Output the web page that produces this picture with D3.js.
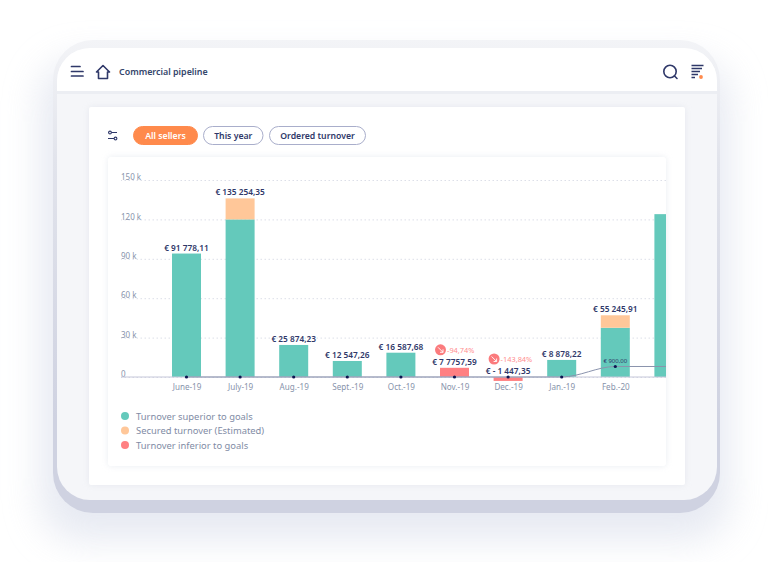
<!DOCTYPE html>
<html>
<head>
<meta charset="utf-8">
<script src="https://cdn.jsdelivr.net/npm/d3@7"></script>
<style>
  html, body { margin: 0; padding: 0; background: #fff; overflow: hidden; }
  svg { display: block; }
  text { font-family: "Noto Sans", sans-serif; }
</style>
</head>
<body>
<script>
// values, in thousands of euros
const months = ["June-19", "July-19", "Aug.-19", "Sept.-19", "Oct.-19", "Nov.-19", "Dec.-19", "Jan.-19", "Feb.-20", "Mar.-20"];
const superior = [94, 120, 24.4, 12.2, 18.5, 0, 0, 13, 37.5, 124];
const secured = [0, 16, 0, 0, 0, 0, 0, 0, 9.5, 0];
const inferior = [0, 0, 0, 0, 0, 7, -3, 0, 0, 0];
const barLabels = ["€ 91 778,11", "€ 135 254,35", "€ 25 874,23", "€ 12 547,26", "€ 16 587,68", "€ 7 7757,59", "€ - 1 447,35", "€ 8 878,22", "€ 55 245,91", ""];
const goalLine = [0, 0, 0, 0, 0, 0, 0, 0, 8, 8, 8];
const lineMonths = months.concat(["Apr.-20"]);
const gaps = [null, null, null, null, null, "-94,74%", "-143,84%", null, null, null];
const yTicks = [0, 30, 60, 90, 120, 150];
const legendItems = ["Turnover superior to goals", "Secured turnover (Estimated)", "Turnover inferior to goals"];
const filters = ["All sellers", "This year", "Ordered turnover"];

const teal = "#64c9bb", peach = "#ffc799", red = "#ff8082", navy = "#2f3869", grey = "#8793ab";

const svg = d3.select("body").append("svg")
    .attr("width", 768)
    .attr("height", 562);
const defs = svg.append("defs");

function blur(id, amount) {
    defs.append("filter").attr("id", id)
        .attr("x", "-30%").attr("y", "-30%").attr("width", "160%").attr("height", "160%")
        .append("feGaussianBlur").attr("stdDeviation", amount);
}
blur("bigShadow", 18);
blur("softShadow", 3);

const frameFill = defs.append("linearGradient").attr("id", "frameFill")
    .attr("x1", 0).attr("y1", 0).attr("x2", 0).attr("y2", 1);
frameFill.append("stop").attr("offset", "0").attr("stop-color", "#f3f4f7");
frameFill.append("stop").attr("offset", "0.25").attr("stop-color", "#e2e4ec");
frameFill.append("stop").attr("offset", "0.8").attr("stop-color", "#cfd2e1");

function box(x, y, w, h, r, fill) {
    return svg.append("rect")
        .attr("x", x).attr("y", y).attr("width", w).attr("height", h)
        .attr("rx", r).attr("fill", fill);
}

// device frame
box(40, 60, 690, 480, 40, "#dfe3ee").attr("filter", "url(#bigShadow)").attr("opacity", 0.75);
box(53, 40, 667, 473, 40, "url(#frameFill)");
box(57, 48, 660, 452, 33, "#f5f6f9");

// header
svg.append("path")
    .attr("d", "M57 91V81a33 33 0 0 1 33-33H684a33 33 0 0 1 33 33V91Z")
    .attr("fill", "#fff");
svg.append("rect").attr("x", 57).attr("y", 91).attr("width", 660).attr("height", 3).attr("fill", "#eceef3");

// panel and chart card
box(89, 107, 596, 378, 2, "#dfe2ea").attr("filter", "url(#softShadow)").attr("opacity", 0.7);
box(89, 107, 596, 378, 2, "#fff");
box(108, 157, 558, 309, 3, "#e2e5ec").attr("filter", "url(#softShadow)").attr("opacity", 0.7);
box(108, 157, 558, 309, 3, "#fff");

// header icons
const icons = svg.append("g").attr("fill", "none").attr("stroke", navy).attr("stroke-linecap", "round");
icons.append("path").attr("stroke-width", 1.7).attr("d", "M71.5 66.5H80M71.5 71.5H83M71.5 76H83");
icons.append("path").attr("stroke-width", 1.6).attr("stroke-linejoin", "round")
    .attr("d", "M96.5 72L103 65.5L109.5 72H107.5V78.5H98.5V72Z");
icons.append("circle").attr("cx", 670).attr("cy", 71.5).attr("r", 6.2).attr("stroke-width", 1.6);
icons.append("path").attr("stroke-width", 1.6).attr("d", "M674.5 76L677 78.5");
icons.append("path").attr("stroke-width", 1.5).attr("stroke-linecap", "butt")
    .attr("d", "M691.5 65.5H703.5M691.5 68.5H702M691.5 71.5H700M691.5 74.5H698M691.5 77.5H695");
svg.append("circle").attr("cx", 701).attr("cy", 77).attr("r", 1.9).attr("fill", "#ff8a4c");
svg.append("text").attr("x", 119).attr("y", 75)
    .attr("font-size", 8.9).attr("font-weight", 600).attr("fill", "#34466b")
    .text("Commercial pipeline");

// filter row
const filterIcon = svg.append("g").attr("fill", "none").attr("stroke", navy).attr("stroke-width", 1.1);
filterIcon.append("path").attr("d", "M108 132.5H117M108 138.5H117");
filterIcon.append("circle").attr("cx", 110).attr("cy", 132.5).attr("r", 1.4).attr("fill", "#fff");
filterIcon.append("circle").attr("cx", 115.5).attr("cy", 138.5).attr("r", 1.4).attr("fill", "#fff");

const pillX = d3.scaleOrdinal().domain(filters).range([133.5, 203.5, 269.5]);
const pillW = d3.scaleOrdinal().domain(filters).range([64, 59.5, 96]);
const pills = svg.selectAll(".pill").data(filters).join("g").attr("class", "pill");
pills.append("rect")
    .attr("x", d => pillX(d)).attr("y", 126.5)
    .attr("width", d => pillW(d)).attr("height", 18).attr("rx", 9)
    .attr("fill", (d, i) => i === 0 ? "#ff8a4c" : "#fff")
    .attr("stroke", (d, i) => i === 0 ? "#ff8a4c" : "#a9aecb");
pills.append("text")
    .attr("x", d => pillX(d) + pillW(d) / 2).attr("y", 138.5)
    .attr("text-anchor", "middle").attr("font-size", 8.7).attr("font-weight", 600)
    .attr("fill", (d, i) => i === 0 ? "#fff" : navy)
    .text(d => d);

// chart scales
const x = d3.scalePoint().domain(lineMonths).range([186.5, 722.5]);
const y = d3.scaleLinear().domain([0, 150]).range([377, 180]);
const barWidth = 29;

defs.append("clipPath").attr("id", "plotClip")
    .append("rect").attr("x", 108).attr("y", 157).attr("width", 558).attr("height", 309);

// y axis with dotted grid
const yAxis = svg.append("g")
    .attr("transform", "translate(666,0)")
    .call(d3.axisLeft(y).tickValues(yTicks).tickSize(545).tickFormat(d => d === 0 ? "0" : d + " k"));
yAxis.select(".domain").remove();
yAxis.selectAll(".tick line").attr("stroke", "#dcdfe8").attr("stroke-dasharray", "1.5 2.5");
yAxis.selectAll(".tick text")
    .attr("x", -545).attr("dy", "-0.05em").attr("text-anchor", "start")
    .attr("font-size", 8).attr("fill", grey);

const plot = svg.append("g").attr("clip-path", "url(#plotClip)");

// bars
const cx = d => x(d);
plot.selectAll(".bar-superior").data(months).join("rect").attr("class", "bar-superior")
    .attr("x", d => cx(d) - barWidth / 2).attr("width", barWidth)
    .attr("y", (d, i) => y(superior[i]))
    .attr("height", (d, i) => y(0) - y(superior[i]))
    .attr("fill", teal);
plot.selectAll(".bar-secured").data(months).join("rect").attr("class", "bar-secured")
    .attr("x", d => cx(d) - barWidth / 2).attr("width", barWidth)
    .attr("y", (d, i) => y(superior[i] + secured[i]))
    .attr("height", (d, i) => y(superior[i]) - y(superior[i] + secured[i]))
    .attr("fill", peach);
plot.selectAll(".bar-inferior").data(months).join("rect").attr("class", "bar-inferior")
    .attr("x", d => cx(d) - barWidth / 2).attr("width", barWidth)
    .attr("y", (d, i) => y(Math.max(inferior[i], 0)))
    .attr("height", (d, i) => Math.abs(y(inferior[i]) - y(0)))
    .attr("fill", red);

// baseline
plot.append("line")
    .attr("x1", 121).attr("x2", 666).attr("y1", y(0)).attr("y2", y(0))
    .attr("stroke", "#c5c8da").attr("stroke-width", 1.2);

// goal line and its points
const goalPath = d3.line()
    .x((d, i) => x(lineMonths[i]))
    .y(d => y(d))
    .curve(d3.curveMonotoneX);
plot.append("path").datum(goalLine)
    .attr("fill", "none").attr("stroke", "#8a93ad").attr("stroke-width", 1)
    .attr("d", goalPath);
plot.selectAll(".goal-dot").data(goalLine.slice(0, 9)).join("circle").attr("class", "goal-dot")
    .attr("cx", (d, i) => x(lineMonths[i]))
    .attr("cy", d => y(d))
    .attr("r", 1.6).attr("fill", "#0d1450");
svg.append("text")
    .attr("x", x("Feb.-20")).attr("y", y(8) - 3)
    .attr("text-anchor", "middle").attr("font-size", 6).attr("fill", navy)
    .text("€ 900,00");

// value labels
const topOf = i => y(Math.max(superior[i] + secured[i], inferior[i], 0));
svg.selectAll(".bar-label").data(months.slice(0, 9)).join("text").attr("class", "bar-label")
    .attr("x", d => cx(d))
    .attr("y", (d, i) => topOf(i) - 3)
    .attr("text-anchor", "middle").attr("font-size", 8.3).attr("font-weight", 600).attr("fill", navy)
    .text((d, i) => barLabels[i]);

// gap badges on the months below goal
const badges = svg.selectAll(".gap").data(months.filter((d, i) => gaps[i])).join("g").attr("class", "gap")
    .attr("transform", d => `translate(${cx(d)},${topOf(months.indexOf(d)) - 18})`);
badges.append("circle").attr("cx", -14).attr("r", 5.5).attr("fill", "#fb7b7d");
badges.append("path")
    .attr("d", "M-16.5 -2.5L-11.5 2.5M-11.5 -0.5V2.5H-14.5")
    .attr("fill", "none").attr("stroke", "#fff").attr("stroke-width", 0.9);
badges.append("text")
    .attr("x", -7.5).attr("y", 2.7)
    .attr("font-size", 7.4).attr("fill", "#ff8f90")
    .text(d => gaps[months.indexOf(d)]);

// x axis labels
const xAxis = svg.append("g")
    .attr("transform", `translate(0,${y(0)})`)
    .call(d3.axisBottom(x).tickValues(months.slice(0, 9)).tickSize(0).tickPadding(7));
xAxis.select(".domain").remove();
xAxis.selectAll(".tick text").attr("font-size", 8.1).attr("fill", grey);

// legend
const legendY = d3.scalePoint().domain(legendItems).range([416, 445]);
const legendColor = d3.scaleOrdinal().domain(legendItems).range([teal, peach, red]);
const legend = svg.selectAll(".legend").data(legendItems).join("g").attr("class", "legend")
    .attr("transform", d => `translate(0,${legendY(d)})`);
legend.append("circle").attr("cx", 125).attr("r", 4).attr("fill", d => legendColor(d));
legend.append("text").attr("x", 136).attr("y", 3.5)
    .attr("font-size", 9.4).attr("fill", "#7f8ca5")
    .text(d => d);
</script>
</body>
</html>
